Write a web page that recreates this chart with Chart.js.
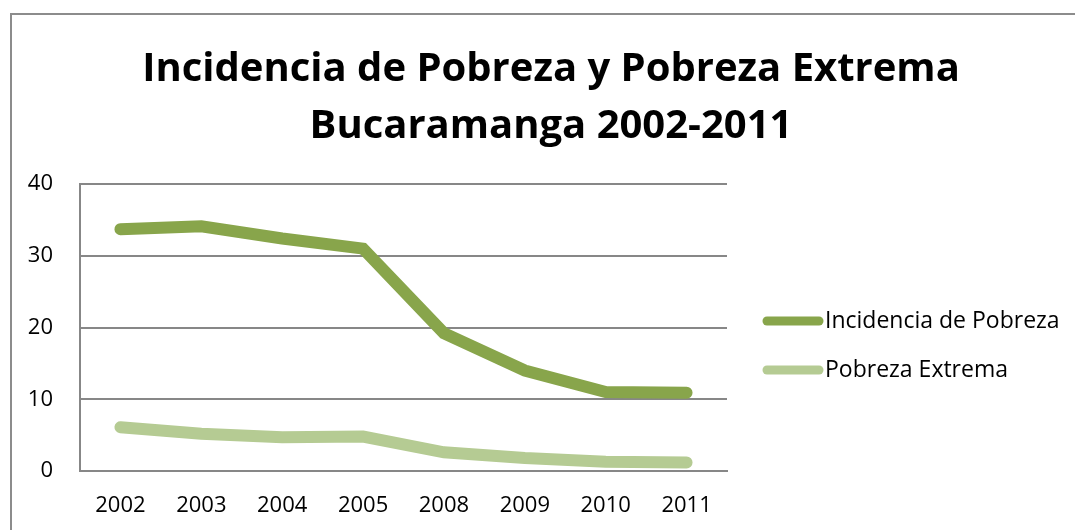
<!DOCTYPE html>
<html>
<head>
<meta charset="utf-8">
<script src="https://cdn.jsdelivr.net/npm/chart.js@4.4.0/dist/chart.umd.min.js"></script>
<style>
  html, body { margin: 0; padding: 0; background: #fff; }
  #wrap { position: relative; width: 1075px; height: 530px; }
</style>
</head>
<body>
<div id="wrap"><canvas id="js--chart-lines" width="1075" height="530"></canvas></div>
<script>
const years = ["2002", "2003", "2004", "2005", "2008", "2009", "2010", "2011"];
const pobreza = [33.7, 34.1, 32.4, 31.0, 19.2, 14.0, 11.0, 10.9];
const extrema = [6.1, 5.2, 4.7, 4.8, 2.6, 1.8, 1.3, 1.2];
const titleLines = ["Incidencia de Pobreza y Pobreza Extrema", "Bucaramanga 2002-2011"];
const seriesNames = ["Incidencia de Pobreza", "Pobreza Extrema"];

const darkGreen = "#88A54B";
const lightGreen = "#B5CB93";
const gridGray = "#878787";
const font = "'Open Sans', 'DejaVu Sans', sans-serif";

const ctx = document.getElementById("js--chart-lines").getContext("2d");

// frame + title + legend drawn by hand, like the office chart
const decorations = {
    id: "decorations",
    beforeDraw(chart) {
        const c = chart.ctx;
        c.save();
        c.fillStyle = "#fff";
        c.fillRect(0, 0, chart.width, chart.height);
        c.strokeStyle = "#8c8c8c";
        c.lineWidth = 2;
        c.beginPath();
        c.moveTo(11, chart.height + 5);
        c.lineTo(11, 14);
        c.lineTo(chart.width + 5, 14);
        c.stroke();
        c.restore();
    },
    afterDraw(chart) {
        const c = chart.ctx;
        c.save();
        c.fillStyle = "#000";
        c.textAlign = "center";
        c.textBaseline = "alphabetic";
        c.font = "bold 40px " + font;
        c.fillText(titleLines[0], 551, 81);
        c.fillText(titleLines[1], 551, 138);

        // legend
        c.font = "23px " + font;
        c.textAlign = "left";
        c.textBaseline = "middle";
        chart.data.datasets.forEach((ds, i) => {
            const y = 321 + i * 49;
            c.strokeStyle = ds.borderColor;
            c.lineWidth = 9;
            c.lineCap = "round";
            c.beginPath();
            c.moveTo(767, y);
            c.lineTo(819, y);
            c.stroke();
            c.fillText(ds.label, 825, y);
        });
        c.restore();
    }
};

new Chart(ctx, {
    type: "line",
    data: {
        labels: years,
        datasets: [{
            label: seriesNames[0],
            data: pobreza,
            borderColor: darkGreen,
            borderWidth: 12,
            borderCapStyle: "round",
            borderJoinStyle: "miter",
            pointRadius: 0,
            tension: 0
        }, {
            label: seriesNames[1],
            data: extrema,
            borderColor: lightGreen,
            borderWidth: 12,
            borderCapStyle: "round",
            borderJoinStyle: "miter",
            pointRadius: 0,
            tension: 0
        }]
    },
    options: {
        responsive: false,
        animation: false,
        layout: {
            padding: { top: 184, right: 348, bottom: 0, left: 0 }
        },
        plugins: {
            legend: { display: false },
            title: { display: false },
            tooltip: { enabled: false }
        },
        scales: {
            x: {
                offset: true,
                grid: { display: false, drawTicks: false },
                border: { display: true, color: gridGray, width: 2 },
                ticks: {
                    color: "#000",
                    font: { family: font, size: 22 },
                    padding: 22
                },
                afterFit(scale) { scale.height = 59; }
            },
            y: {
                min: 0,
                max: 40,
                grid: { color: gridGray, lineWidth: 2, drawTicks: false },
                border: { display: true, color: gridGray, width: 2 },
                ticks: {
                    stepSize: 10,
                    color: "#000",
                    font: { family: font, size: 22 },
                    padding: 27
                },
                afterFit(scale) { scale.width = 80; }
            }
        }
    },
    plugins: [decorations]
});
</script>
</body>
</html>
